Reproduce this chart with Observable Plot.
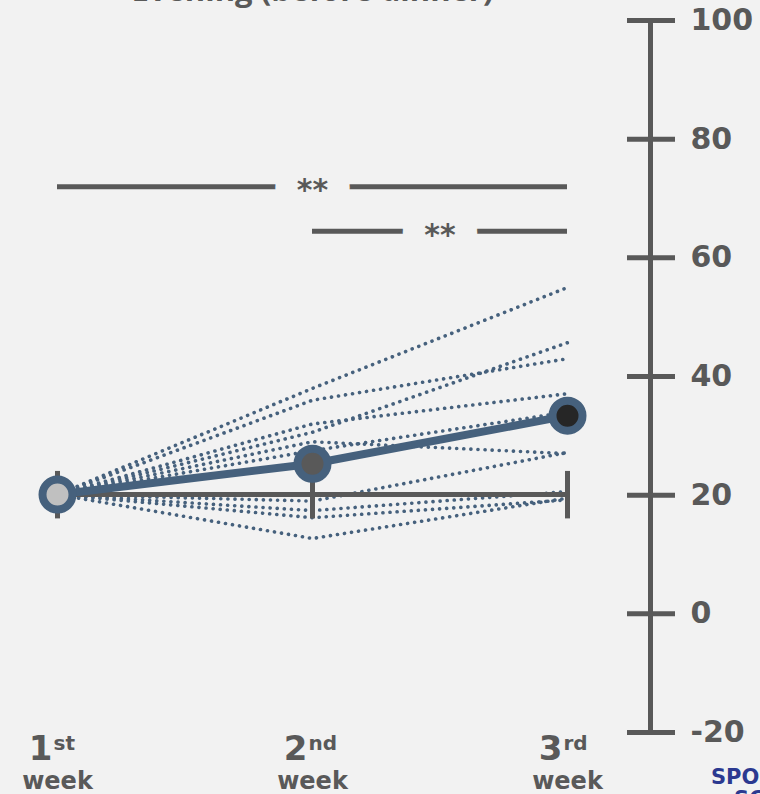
<!DOCTYPE html>
<html>
<head>
<meta charset="utf-8">
<script src="https://cdn.jsdelivr.net/npm/d3@7"></script>
<script src="https://cdn.jsdelivr.net/npm/@observablehq/plot@0.6"></script>
<style>
  html, body { margin: 0; padding: 0; background: #f2f2f2; overflow: hidden; width: 760px; height: 794px; }
  #title { position: absolute; left: 0; top: -26px; width: 625px; text-align: center;
           font: bold 31px "Open Sans", sans-serif; line-height: 1; color: #595959; white-space: nowrap; }
  #logo1, #logo2 { position: absolute; font: bold 21px "DejaVu Sans", sans-serif; color: #2b3990; white-space: nowrap; line-height: 1; }
  #logo1 { left: 711px; top: 767px; }
  #logo2 { left: 734px; top: 789px; }
  #chart { position: absolute; left: 0; top: 0; }
</style>
</head>
<body>
<div id="chart"></div>
<div id="title">Evening (before dinner)</div>
<div id="logo1">SPORTS</div>
<div id="logo2">SCIENCE</div>
<script>
// ---- data ----
const weeks = [1, 2, 3];
const weekNumbers = ["1", "2", "3"];
const weekSuffixes = ["st", "nd", "rd"];
const weekWord = "week";

const meanValues = [20.1, 25.3, 33.4];
const meanFills = ["#c0c0c0", "#595959", "#262626"];

// individual subjects (week 1, week 2, week 3)
const subjectWeek1 = [20.1, 20.1, 20.1, 20.1, 20.1, 20.1, 20.1, 20.1, 20.1, 20.1];
const subjectWeek2 = [38.0, 36.0, 30.6, 32.0, 27.5, 29.0, 19.0, 17.4, 16.2, 12.7];
const subjectWeek3 = [55.0, 43.0, 45.7, 37.1, 34.0, 27.0, 27.2, 20.6, 19.2, 19.5];

// reference band (week 1 mean with limits)
const refValue = 20.1;
const refLow = 16;
const refHigh = 24;

// significance brackets
const bracketFrom = [1, 2];
const bracketTo = [3, 3];
const bracketLevel = [72, 64.5];
const bracketLabel = ["**", "**"];

const yTicks = [-20, 0, 20, 40, 60, 80, 100];

// ---- tables ----
const subjectRows = [];
subjectWeek1.forEach((v, i) => {
  [v, subjectWeek2[i], subjectWeek3[i]].forEach((val, k) => subjectRows.push({id: i, week: weeks[k], value: val}));
});
const means = weeks.map((w, i) => ({week: w, value: meanValues[i], fill: meanFills[i]}));
const brackets = bracketFrom.map((f, i) => ({from: f, to: bracketTo[i], level: bracketLevel[i], label: bracketLabel[i]}));
const weekRows = weeks.map((w, i) => ({week: w, num: weekNumbers[i], suf: weekSuffixes[i], word: weekWord}));

const grey = "#595959";
const blue = "#46617d";
const bg = "#f2f2f2";

const chart = Plot.plot({
  width: 760,
  height: 794,
  marginTop: 20,
  marginBottom: 62,
  marginLeft: 57,
  marginRight: 193,
  x: {domain: [1, 3], axis: null},
  y: {domain: [-20, 100], axis: null},
  style: {background: bg, fontFamily: "DejaVu Sans", color: grey},
  marks: [
    // y axis (right side)
    Plot.ruleX([weeks[2]], {dx: 83, y1: d3.min(yTicks), y2: d3.max(yTicks), stroke: grey, strokeWidth: 5}),
    Plot.axisY(yTicks, {anchor: "right", tickSize: 48, tickPadding: 16, dx: 59, color: grey, strokeWidth: 5,
      fontSize: 30, fontWeight: "bold", tickFormat: d => String(d)}),
    // individual dotted lines
    Plot.line(subjectRows, {x: "week", y: "value", z: "id", stroke: blue, strokeWidth: 3.6,
      strokeDasharray: "0.1,7", strokeLinecap: "round"}),
    // reference line with caps
    Plot.ruleY([refValue], {x1: weeks[0], x2: weeks[2], stroke: grey, strokeWidth: 5}),
    Plot.ruleX(weeks, {x: d => d, y1: refLow, y2: refHigh, stroke: grey, strokeWidth: 5}),
    // mean line and points
    Plot.line(means, {x: "week", y: "value", stroke: blue, strokeWidth: 8}),
    Plot.dot(means, {x: "week", y: "value", r: 15, fill: "fill", stroke: blue, strokeWidth: 8}),
    // significance brackets
    Plot.ruleY(brackets, {y: "level", x1: "from", x2: "to", stroke: grey, strokeWidth: 5}),
    Plot.text(brackets, {x: d => (d.from + d.to) / 2, y: "level", text: "label", fill: grey,
      stroke: bg, strokeWidth: 44, strokeLinejoin: "round", paintOrder: "stroke",
      fontSize: 30, fontWeight: "bold", dy: 4}),
    // week labels
    Plot.text(weekRows, {x: "week", text: "num", frameAnchor: "bottom", lineAnchor: "bottom",
      textAnchor: "end", dx: -5, dy: 27, fontSize: 34, fontWeight: "bold", fill: grey}),
    Plot.text(weekRows, {x: "week", text: "suf", frameAnchor: "bottom", lineAnchor: "bottom",
      textAnchor: "start", dx: -4, dy: 17, fontSize: 20, fontWeight: "bold", fill: grey}),
    Plot.text(weekRows, {x: "week", text: "word", frameAnchor: "bottom", lineAnchor: "bottom",
      dy: 56, fontSize: 24, fontWeight: "bold", fill: grey})
  ]
});
document.getElementById("chart").appendChild(chart);
</script>
</body>
</html>
